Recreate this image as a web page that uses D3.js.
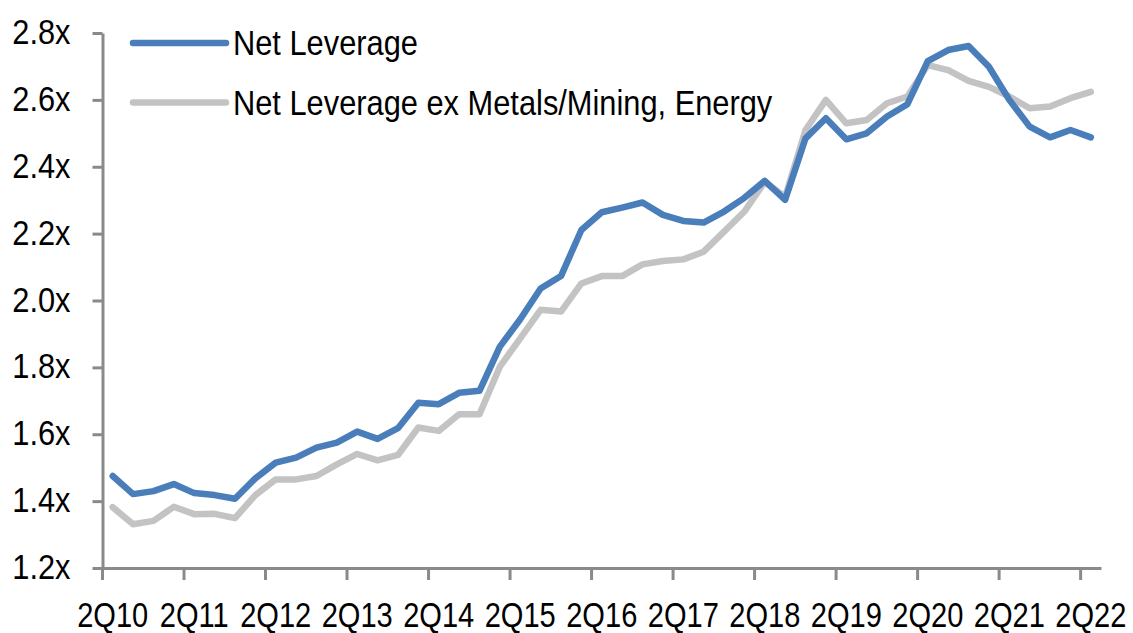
<!DOCTYPE html>
<html>
<head>
<meta charset="utf-8">
<script src="https://cdn.jsdelivr.net/npm/d3@7/dist/d3.min.js"></script>
<style>
  html, body { margin: 0; padding: 0; background: #fff; }
  svg text { font-family: 'Liberation Sans Narrow', 'Arial Narrow', 'Liberation Sans', Arial, sans-serif; fill: #000; }
</style>
</head>
<body>
<svg id="chart" width="1133" height="633"></svg>
<script>
const quarters = [];
for (let yr = 10; yr <= 22; yr++) {
  for (let q = 1; q <= 4; q++) {
    if ((yr === 10 && q < 2) || (yr === 22 && q > 2)) continue;
    quarters.push(q + "Q" + yr);
  }
}
const netLeverage = [1.475,1.421,1.430,1.451,1.424,1.418,1.407,1.468,1.515,1.530,
  1.560,1.575,1.608,1.586,1.618,1.694,1.690,1.724,1.730,1.862,
  1.944,2.036,2.073,2.211,2.264,2.278,2.293,2.256,2.238,2.233,
  2.266,2.307,2.358,2.301,2.485,2.545,2.482,2.500,2.550,2.587,
  2.716,2.749,2.761,2.699,2.600,2.520,2.488,2.510,2.488];
const netLevExMM = [1.382,1.331,1.341,1.383,1.361,1.362,1.349,1.418,1.465,1.465,
  1.475,1.510,1.541,1.522,1.538,1.620,1.610,1.660,1.660,1.802,
  1.887,1.972,1.967,2.051,2.073,2.073,2.108,2.118,2.123,2.146,
  2.206,2.266,2.355,2.310,2.510,2.600,2.530,2.540,2.590,2.610,
  2.704,2.689,2.657,2.639,2.610,2.575,2.580,2.605,2.624];
const yTicks = [1.2,1.4,1.6,1.8,2.0,2.2,2.4,2.6,2.8];
const xTickLabels = ["2Q10","2Q11","2Q12","2Q13","2Q14","2Q15","2Q16","2Q17","2Q18","2Q19","2Q20","2Q21","2Q22"];
const seriesNames = ["Net Leverage", "Net Leverage ex Metals/Mining, Energy"];
const seriesColors = ["#4a7ebb", "#c3c3c3"];

const svg = d3.select("#chart");
const mLeft = 102.5, mRight = 1101, mTop = 33, mBottom = 568;

const x = d3.scaleBand().domain(quarters).range([mLeft, mRight]).paddingInner(0).paddingOuter(0);
const y = d3.scaleLinear().domain([1.2, 2.8]).range([mBottom, mTop]);
const axisColor = "#8a8a8a";

function squeeze(sel, ratio) {
  sel.each(function () {
    const w = this.getComputedTextLength();
    d3.select(this).attr("textLength", w * ratio).attr("lengthAdjust", "spacingAndGlyphs");
  });
}

// Y axis
const yAxis = svg.append("g").attr("transform", `translate(${mLeft},0)`)
  .call(d3.axisLeft(y).tickValues(yTicks).tickSize(10).tickSizeOuter(0).tickPadding(22)
    .tickFormat(d => d3.format(".1f")(d) + "x"));
yAxis.select(".domain").attr("stroke", axisColor).attr("stroke-width", 3);
yAxis.selectAll(".tick line").attr("stroke", axisColor).attr("stroke-width", 3);
yAxis.selectAll(".tick text").attr("font-size", 35).attr("dy", "0.3em").call(squeeze, 0.88);

// X axis
const xAxis = svg.append("g").attr("transform", `translate(0,${mBottom})`)
  .call(d3.axisBottom(x).tickValues(xTickLabels).tickSize(12).tickSizeOuter(0).tickPadding(22));
xAxis.select(".domain").attr("stroke", axisColor).attr("stroke-width", 3);
xAxis.selectAll(".tick line").attr("stroke", axisColor).attr("stroke-width", 3)
  .attr("transform", `translate(${-x.bandwidth() / 2},0)`);
xAxis.selectAll(".tick text").attr("font-size", 35).attr("dy", "0.71em").call(squeeze, 0.83);

// Lines
const series = [netLeverage, netLevExMM];
const line = d3.line().x((d, i) => x(quarters[i]) + x.bandwidth() / 2).y(d => y(d));
[1, 0].forEach(k => {
  svg.append("path").datum(series[k])
    .attr("fill", "none").attr("stroke", seriesColors[k]).attr("stroke-width", 6.5)
    .attr("stroke-linejoin", "round").attr("stroke-linecap", "round")
    .attr("d", line);
});

// Legend
const legend = svg.append("g");
seriesNames.forEach((name, k) => {
  const ly = 43 + k * 59.5;
  legend.append("line").attr("x1", 133).attr("x2", 226).attr("y1", ly).attr("y2", ly)
    .attr("stroke", seriesColors[k]).attr("stroke-width", 6.5).attr("stroke-linecap", "round");
  legend.append("text").attr("x", 233).attr("y", ly).attr("dy", "0.35em")
    .attr("font-size", 35).text(name).call(squeeze, 0.88);
});
</script>
</body>
</html>
